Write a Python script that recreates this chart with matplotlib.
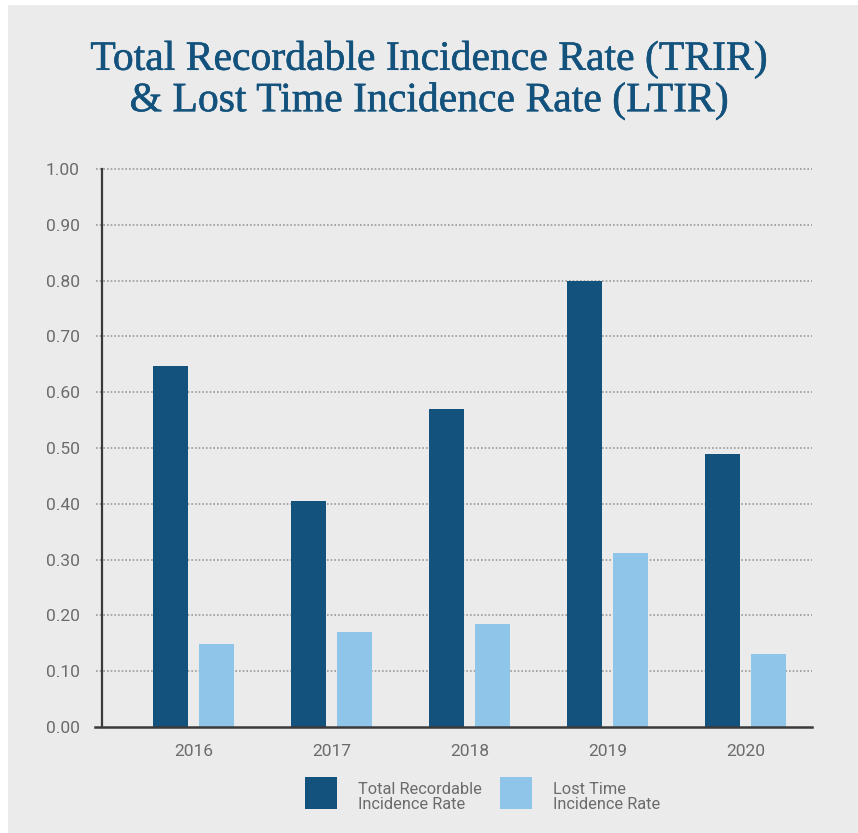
import matplotlib.pyplot as plt
import matplotlib.patheffects as pe
import numpy as np
from matplotlib.patches import Rectangle

years = ["2016", "2017", "2018", "2019", "2020"]
trir = [0.647, 0.405, 0.57, 0.80, 0.49]
ltir = [0.148, 0.170, 0.184, 0.311, 0.130]
yticks = [0.0, 0.1, 0.2, 0.3, 0.4, 0.5, 0.6, 0.7, 0.8, 0.9, 1.0]

dark = "#13527c"
light = "#8fc5e8"
panel = "#ebebeb"
grey_text = "#6b6b6b"
narrow = ["Roboto", "DejaVu Sans"]

fig = plt.figure(figsize=(8.58, 8.33), dpi=100)
fig.patch.set_facecolor("white")
# grey card behind everything
fig.patches.append(Rectangle((8 / 858, 0), 1, 1 - 5 / 833, transform=fig.transFigure,
                             facecolor=panel, edgecolor="none", zorder=-10))

ax = fig.add_axes([102 / 858, 1 - 727 / 833, 710 / 858, 558 / 833])
ax.set_facecolor(panel)

x = np.arange(len(years))
w = 0.254
off = 0.167
ax.bar(x - off, trir, width=w, color=dark, zorder=3)
ax.bar(x + off, ltir, width=w, color=light, zorder=3)

ax.set_xlim(-0.663, 4.48)
ax.set_ylim(0, 1.0)

# dotted horizontal guides that poke a little past the axis
for v in yticks[1:]:
    ax.plot([-0.008, 1.0], [v, v], transform=ax.get_yaxis_transform(), clip_on=False,
            color="#9a9a9a", lw=1.2, ls=(0, (1, 1.2)), zorder=1)
ax.plot([-0.01, 1.0], [0, 0], transform=ax.get_yaxis_transform(), clip_on=False,
        color="#3a3a3a", lw=1.8, zorder=4)

for s in ["top", "right", "bottom"]:
    ax.spines[s].set_visible(False)
ax.spines["left"].set_color("#3a3a3a")
ax.spines["left"].set_linewidth(1.6)

ax.set_yticks(yticks)
ax.set_yticklabels(["%.2f" % v for v in yticks], family=narrow, fontstretch="condensed",
                   fontsize=12.5, color=grey_text)
ax.tick_params(axis="y", length=0, pad=16)
ax.set_xticks(x)
ax.set_xticklabels(years, family=narrow, fontstretch="condensed", fontsize=12.5, color=grey_text)
ax.tick_params(axis="x", length=0, pad=12)

fig.text(0.5, 1 - 80 / 833, "Total Recordable Incidence Rate (TRIR)\n& Lost Time Incidence Rate (LTIR)",
         ha="center", va="center", family=["Liberation Serif", "DejaVu Serif"], fontsize=30,
         color=dark, linespacing=1.08,
         path_effects=[pe.withStroke(linewidth=0.4, foreground=dark)])

# legend drawn by hand under the axis
leg = [(305, dark, "Total Recordable\nIncidence Rate"), (500, light, "Lost Time\nIncidence Rate")]
for px, col, lab in leg:
    fig.patches.append(Rectangle((px / 858, 1 - 809 / 833), 32 / 858, 32 / 833,
                                 transform=fig.transFigure, facecolor=col, edgecolor="none"))
    fig.text((px + 53) / 858, 1 - 797 / 833, lab, ha="left", va="center", family=narrow,
             fontstretch="condensed", fontsize=11.8, color=grey_text, linespacing=0.98)

fig.savefig("out.png", dpi=100, facecolor=fig.get_facecolor())
